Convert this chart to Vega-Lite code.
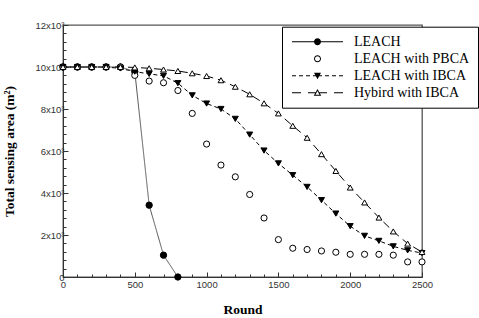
{
  "$schema": "https://vega.github.io/schema/vega-lite/v6.json",
  "width": 359,
  "height": 252,
  "autosize": "none",
  "padding": {"left": 63, "top": 25, "right": 57, "bottom": 41},
  "background": "white",
  "config": {
    "view": {"stroke": "#555", "strokeWidth": 1.3},
    "axis": {
      "grid": false,
      "domainColor": "#333",
      "tickColor": "#333",
      "labelFont": "Liberation Sans",
      "labelFontSize": 9.5,
      "labelColor": "#333",
      "titleFont": "Liberation Serif",
      "titleFontSize": 13.5,
      "titleFontWeight": "bold",
      "titleColor": "black",
      "labelOverlap": false,
      "labelFlush": false
    }
  },
  "datasets": {
    "main": [
      {"series": "LEACH", "round": 0, "area": 10000},
      {"series": "LEACH", "round": 100, "area": 10000},
      {"series": "LEACH", "round": 200, "area": 10000},
      {"series": "LEACH", "round": 300, "area": 10000},
      {"series": "LEACH", "round": 400, "area": 10000},
      {"series": "LEACH", "round": 500, "area": 9780},
      {"series": "LEACH", "round": 600, "area": 3420},
      {"series": "LEACH", "round": 700, "area": 1040},
      {"series": "LEACH", "round": 800, "area": 0},
      {"series": "LEACH with PBCA", "round": 0, "area": 10000},
      {"series": "LEACH with PBCA", "round": 100, "area": 10000},
      {"series": "LEACH with PBCA", "round": 200, "area": 10000},
      {"series": "LEACH with PBCA", "round": 300, "area": 10000},
      {"series": "LEACH with PBCA", "round": 400, "area": 10000},
      {"series": "LEACH with PBCA", "round": 500, "area": 9600},
      {"series": "LEACH with PBCA", "round": 600, "area": 9330},
      {"series": "LEACH with PBCA", "round": 700, "area": 9250},
      {"series": "LEACH with PBCA", "round": 800, "area": 8880},
      {"series": "LEACH with PBCA", "round": 900, "area": 7790},
      {"series": "LEACH with PBCA", "round": 1000, "area": 6330},
      {"series": "LEACH with PBCA", "round": 1100, "area": 5330},
      {"series": "LEACH with PBCA", "round": 1200, "area": 4770},
      {"series": "LEACH with PBCA", "round": 1300, "area": 3930},
      {"series": "LEACH with PBCA", "round": 1400, "area": 2810},
      {"series": "LEACH with PBCA", "round": 1500, "area": 1780},
      {"series": "LEACH with PBCA", "round": 1600, "area": 1370},
      {"series": "LEACH with PBCA", "round": 1700, "area": 1310},
      {"series": "LEACH with PBCA", "round": 1800, "area": 1240},
      {"series": "LEACH with PBCA", "round": 1900, "area": 1180},
      {"series": "LEACH with PBCA", "round": 2000, "area": 1080},
      {"series": "LEACH with PBCA", "round": 2100, "area": 1080},
      {"series": "LEACH with PBCA", "round": 2200, "area": 1080},
      {"series": "LEACH with PBCA", "round": 2300, "area": 1040},
      {"series": "LEACH with PBCA", "round": 2400, "area": 720},
      {"series": "LEACH with PBCA", "round": 2500, "area": 720},
      {"series": "LEACH with IBCA", "round": 0, "area": 10000},
      {"series": "LEACH with IBCA", "round": 100, "area": 10000},
      {"series": "LEACH with IBCA", "round": 200, "area": 10000},
      {"series": "LEACH with IBCA", "round": 300, "area": 10000},
      {"series": "LEACH with IBCA", "round": 400, "area": 9930},
      {"series": "LEACH with IBCA", "round": 500, "area": 9780},
      {"series": "LEACH with IBCA", "round": 600, "area": 9670},
      {"series": "LEACH with IBCA", "round": 700, "area": 9580},
      {"series": "LEACH with IBCA", "round": 800, "area": 9230},
      {"series": "LEACH with IBCA", "round": 900, "area": 8650},
      {"series": "LEACH with IBCA", "round": 1000, "area": 8260},
      {"series": "LEACH with IBCA", "round": 1100, "area": 8000},
      {"series": "LEACH with IBCA", "round": 1200, "area": 7530},
      {"series": "LEACH with IBCA", "round": 1300, "area": 6780},
      {"series": "LEACH with IBCA", "round": 1400, "area": 6020},
      {"series": "LEACH with IBCA", "round": 1500, "area": 5410},
      {"series": "LEACH with IBCA", "round": 1600, "area": 4850},
      {"series": "LEACH with IBCA", "round": 1700, "area": 4290},
      {"series": "LEACH with IBCA", "round": 1800, "area": 3660},
      {"series": "LEACH with IBCA", "round": 1900, "area": 3020},
      {"series": "LEACH with IBCA", "round": 2000, "area": 2420},
      {"series": "LEACH with IBCA", "round": 2100, "area": 1960},
      {"series": "LEACH with IBCA", "round": 2200, "area": 1720},
      {"series": "LEACH with IBCA", "round": 2300, "area": 1460},
      {"series": "LEACH with IBCA", "round": 2400, "area": 1270},
      {"series": "LEACH with IBCA", "round": 2500, "area": 1140},
      {"series": "Hybird with IBCA", "round": 0, "area": 10000},
      {"series": "Hybird with IBCA", "round": 100, "area": 10000},
      {"series": "Hybird with IBCA", "round": 200, "area": 10000},
      {"series": "Hybird with IBCA", "round": 300, "area": 10000},
      {"series": "Hybird with IBCA", "round": 400, "area": 10000},
      {"series": "Hybird with IBCA", "round": 500, "area": 9980},
      {"series": "Hybird with IBCA", "round": 600, "area": 9940},
      {"series": "Hybird with IBCA", "round": 700, "area": 9880},
      {"series": "Hybird with IBCA", "round": 800, "area": 9810},
      {"series": "Hybird with IBCA", "round": 900, "area": 9700},
      {"series": "Hybird with IBCA", "round": 1000, "area": 9570},
      {"series": "Hybird with IBCA", "round": 1100, "area": 9370},
      {"series": "Hybird with IBCA", "round": 1200, "area": 9060},
      {"series": "Hybird with IBCA", "round": 1300, "area": 8700},
      {"series": "Hybird with IBCA", "round": 1400, "area": 8270},
      {"series": "Hybird with IBCA", "round": 1500, "area": 7790},
      {"series": "Hybird with IBCA", "round": 1600, "area": 7200},
      {"series": "Hybird with IBCA", "round": 1700, "area": 6630},
      {"series": "Hybird with IBCA", "round": 1800, "area": 5850},
      {"series": "Hybird with IBCA", "round": 1900, "area": 5050},
      {"series": "Hybird with IBCA", "round": 2000, "area": 4260},
      {"series": "Hybird with IBCA", "round": 2100, "area": 3550},
      {"series": "Hybird with IBCA", "round": 2200, "area": 2830},
      {"series": "Hybird with IBCA", "round": 2300, "area": 2170},
      {"series": "Hybird with IBCA", "round": 2400, "area": 1590},
      {"series": "Hybird with IBCA", "round": 2500, "area": 1190}
    ]
  },
  "data": {"name": "main"},
  "encoding": {
    "x": {
      "field": "round", "type": "quantitative",
      "scale": {"domain": [0, 2500], "nice": false, "zero": false},
      "axis": {
        "title": "Round",
        "values": [0,100,200,300,400,500,600,700,800,900,1000,1100,1200,1300,1400,1500,1600,1700,1800,1900,2000,2100,2200,2300,2400,2500],
        "format": "d",
        "labelExpr": "datum.value % 500 === 0 ? datum.label : ''",
        "tickSize": {"condition": {"test": "datum.value % 500 === 0", "value": -5}, "value": -3},
        "labelPadding": 7,
        "titlePadding": 12
      }
    },
    "y": {
      "field": "area", "type": "quantitative",
      "scale": {"domain": [0, 12000], "nice": false},
      "axis": {
        "title": "Total sensing area (m²)",
        "values": [0,400,800,1200,1600,2000,2400,2800,3200,3600,4000,4400,4800,5200,5600,6000,6400,6800,7200,7600,8000,8400,8800,9200,9600,10000,10400,10800,11200,11600,12000],
        "labelExpr": "datum.value % 2000 !== 0 ? '' : (datum.value === 0 ? '0' : (datum.value / 1000) + 'x10³')",
        "tickSize": {"condition": {"test": "datum.value % 2000 === 0", "value": -5}, "value": -3},
        "labelPadding": 4,
        "titlePadding": 18
      }
    }
  },
  "layer": [
    {
      "transform": [{"filter": "datum.series !== 'LEACH with PBCA'"}],
      "mark": {"type": "line", "strokeWidth": 1},
      "encoding": {
        "strokeDash": {
          "field": "series", "type": "nominal",
          "scale": {"domain": ["LEACH", "LEACH with IBCA", "Hybird with IBCA"], "range": [[1, 0], [4, 3], [8, 5]]},
          "legend": null
        },
        "stroke": {
          "field": "series", "type": "nominal",
          "scale": {"domain": ["LEACH", "LEACH with IBCA", "Hybird with IBCA"], "range": ["#555555", "#000000", "#000000"]},
          "legend": null
        }
      }
    },
    {
      "mark": {"type": "point", "filled": true, "stroke": "black", "strokeWidth": 1, "opacity": 1},
      "encoding": {
        "shape": {
          "field": "series", "type": "nominal",
          "scale": {"domain": ["LEACH", "LEACH with PBCA", "LEACH with IBCA", "Hybird with IBCA"], "range": ["circle", "circle", "triangle-down", "triangle-up"]},
          "legend": null
        },
        "fill": {
          "field": "series", "type": "nominal",
          "scale": {"domain": ["LEACH", "LEACH with PBCA", "LEACH with IBCA", "Hybird with IBCA"], "range": ["black", "white", "black", "white"]},
          "legend": null
        },
        "size": {
          "field": "series", "type": "nominal",
          "scale": {"domain": ["LEACH", "LEACH with PBCA", "LEACH with IBCA", "Hybird with IBCA"], "range": [40, 34, 50, 50]},
          "legend": null
        }
      }
    },
    {
      "transform": [{"filter": "false"}],
      "mark": {"type": "point", "filled": true, "color": "black", "strokeWidth": 0, "opacity": 1},
      "encoding": {
        "shape": {
          "field": "series", "type": "nominal",
          "scale": {
            "domain": ["LEACH", "LEACH with PBCA", "LEACH with IBCA", "Hybird with IBCA"],
            "range": [
              "M-1,-0.1H9.2V0.1H-1Z M3.4,0A0.7,0.7 0 1,1 4.8,0A0.7,0.7 0 1,1 3.4,0Z",
              "M3.4,0A0.7,0.7 0 1,1 4.8,0A0.7,0.7 0 1,1 3.4,0Z M3.6,0A0.5,0.5 0 1,0 4.6,0A0.5,0.5 0 1,0 3.6,0Z",
              "M-1,-0.1H-0.2V0.1H-1Z M0.4,-0.1H1.2V0.1H0.4Z M1.8,-0.1H2.6V0.1H1.8Z M3.2,-0.1H5.0V0.1H3.2Z M5.6,-0.1H6.4V0.1H5.6Z M7.0,-0.1H7.8V0.1H7.0Z M8.4,-0.1H9.2V0.1H8.4Z M3.4,-0.6H4.8L4.1,0.7Z",
              "M-1,-0.1H0.8V0.1H-1Z M2.2,-0.1H3.7V0.1H2.2Z M4.5,-0.1H6.0V0.1H4.5Z M7.4,-0.1H9.2V0.1H7.4Z M4.1,-0.75L4.85,0.6H3.35Z M4.1,-0.34L3.69,0.4H4.51Z"
            ]
          },
          "legend": {
            "title": null,
            "orient": "none",
            "legendX": 219,
            "legendY": 1.7,
            "padding": 8,
            "strokeColor": "black",
            "fillColor": "white",
            "labelFont": "Liberation Serif",
            "labelFontSize": 14,
            "labelColor": "black",
            "symbolSize": 100,
            "symbolFillColor": "black",
            "symbolStrokeWidth": 0,
            "labelOffset": 50,
            "rowPadding": 3
          }
        }
      }
    }
  ],
  "resolve": {
    "scale": {"shape": "independent", "fill": "independent", "strokeDash": "independent", "stroke": "independent", "size": "independent"}
  }
}
